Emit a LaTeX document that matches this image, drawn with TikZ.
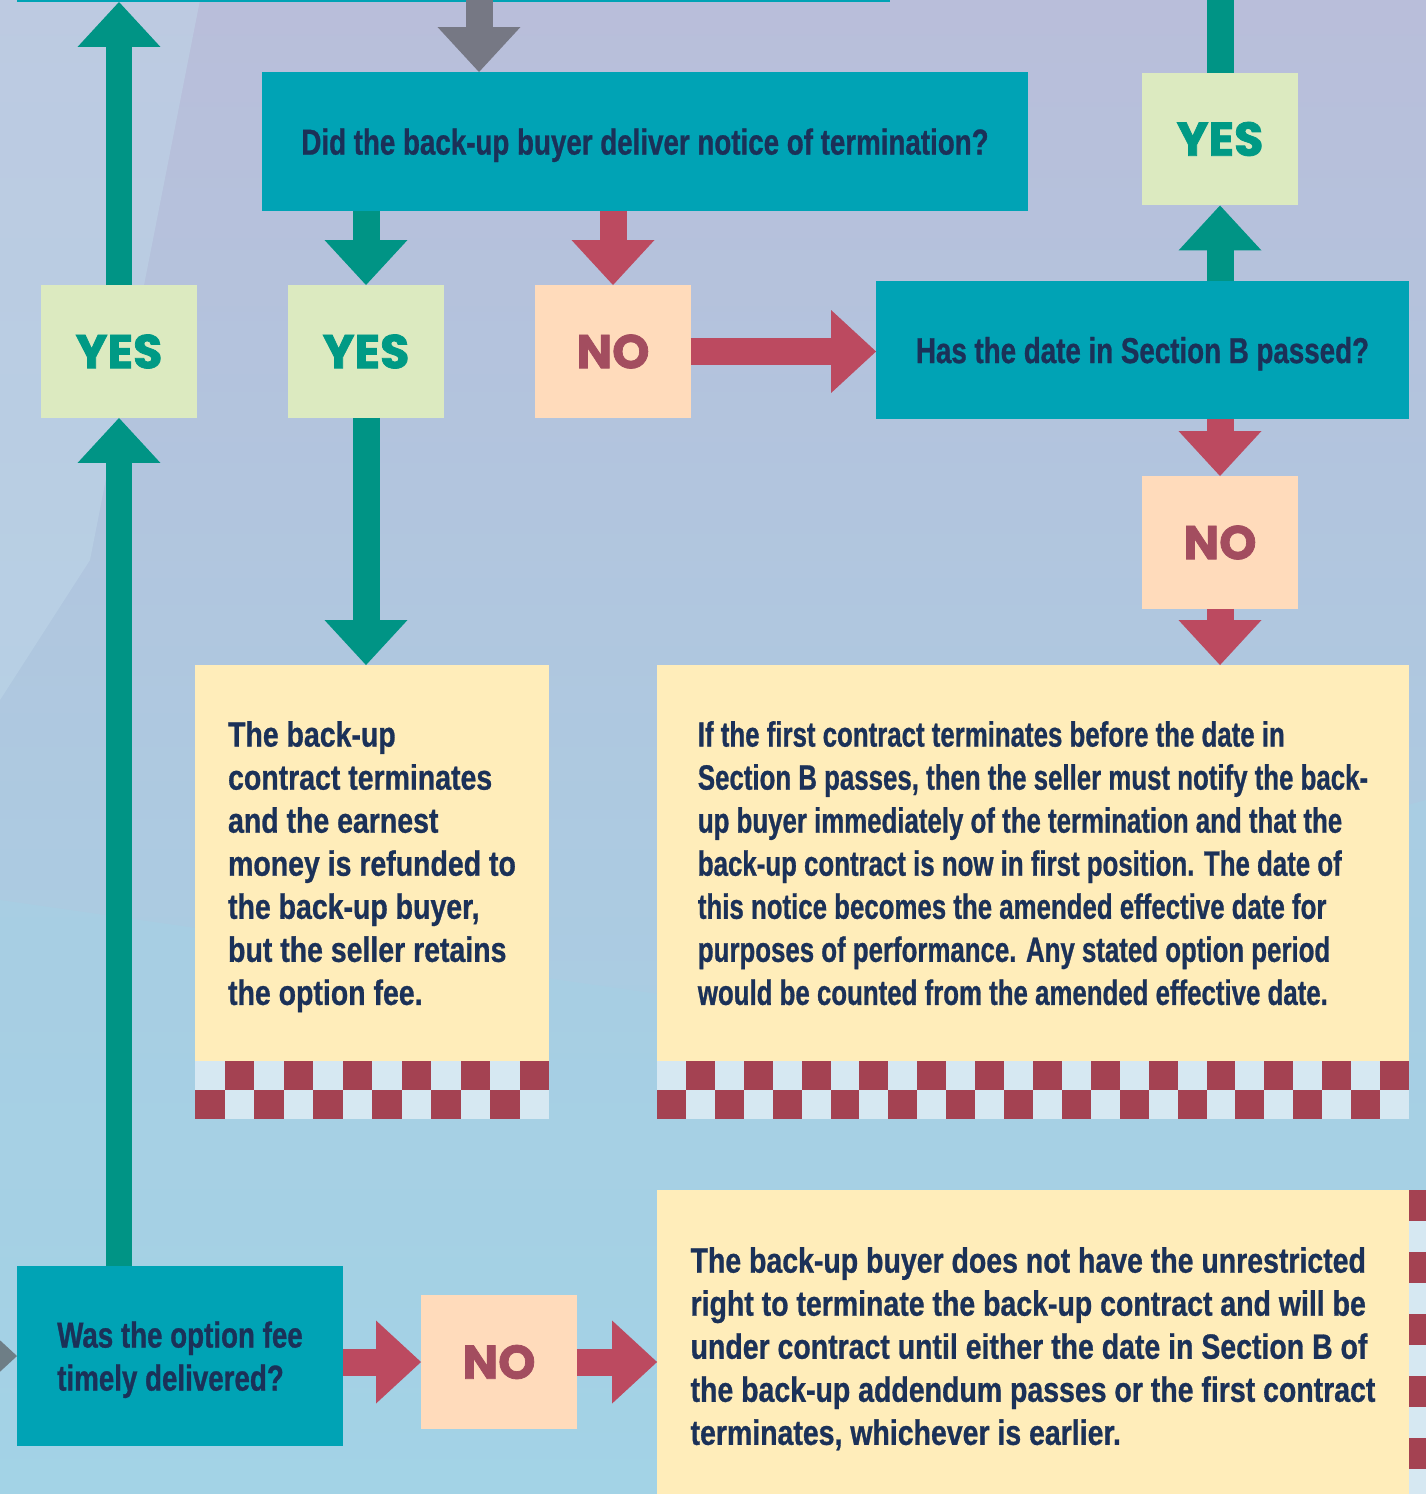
\documentclass[tikz,border=0pt]{standalone}
\usepackage{fontspec}
\usetikzlibrary{arrows.meta}

\newfontfamily\qfont{Liberation Sans}[FakeStretch=0.77, BoldFeatures={FakeBold=0.8}]
\newfontfamily\bodyfont{Liberation Sans}[FakeStretch=0.81, BoldFeatures={FakeBold=0.8}]
\newfontfamily\tightfont{Liberation Sans}[FakeStretch=0.735, BoldFeatures={FakeBold=0.8}]
\newfontfamily\tagfont{Poppins}[BoldFeatures={FakeBold=1.6}]

\definecolor{bgtop}{HTML}{B9BEDA}
\definecolor{bgmid}{HTML}{B0C9E2}
\definecolor{bgbot}{HTML}{A3D3E6}
\definecolor{bglight}{HTML}{C2DAEB}
\definecolor{boxteal}{HTML}{00A3B5}
\definecolor{arrteal}{HTML}{009485}
\definecolor{yesfill}{HTML}{DCEAC0}
\definecolor{yestext}{HTML}{009A85}
\definecolor{nofill}{HTML}{FFDBBB}
\definecolor{notext}{HTML}{A34D5F}
\definecolor{arrred}{HTML}{BC4A60}
\definecolor{notefill}{HTML}{FFEDBA}
\definecolor{chkdark}{HTML}{A44252}
\definecolor{chklight}{HTML}{D6E8F2}
\definecolor{navy}{HTML}{1B3158}
\definecolor{arrgray}{HTML}{767884}
\definecolor{arrgrayb}{HTML}{6E7E86}

\begin{document}
\begin{tikzpicture}[x=0.02cm, y=-0.02cm,
    every node/.style={outer sep=0pt, inner sep=0pt},
    qbox/.style={fill=boxteal, text=navy, align=left, text depth=0pt,
        font=\qfont\bfseries\fontsize{20.5}{24.5}\selectfont},
    tagbox/.style={minimum width=3.12cm, minimum height=2.66cm,
        font=\tagfont\bfseries\fontsize{27}{30}\selectfont},
    yesbox/.style={tagbox, fill=yesfill, text=yestext},
    nobox/.style={tagbox, fill=nofill, text=notext},
    notebox/.style={fill=notefill, text=navy, align=left, text depth=-0.1cm},
    tealarr/.style={draw=arrteal, line width=0.54cm,
        -{Triangle[width=1.66cm, length=0.9cm, line width=0pt]}},
    redarr/.style={tealarr, draw=arrred},
    grayarr/.style={tealarr, draw=arrgray}]

    \useasboundingbox (0,0) rectangle (1426,1494);
    \clip (0,0) rectangle (1426,1494);

    % background
    \shade[top color=bgtop, middle color=bgmid, bottom color=bgbot] (0,0) rectangle (1426,1494);
    \fill[bglight, opacity=0.45] (0,0) -- (200,0) -- (90,560) -- (0,700) -- cycle;
    \fill[bgbot, opacity=0.4] (0,1494) -- (0,900) -- (700,1000) -- (1426,800) -- (1426,1494) -- cycle;

    % boxes
    \node[fill=boxteal, minimum width=17.46cm, minimum height=2.04cm] (prev) at (453.5,-49) {};
    \node[qbox, minimum width=15.32cm, minimum height=2.78cm] (q1) at (645,141.5)
        {Did the back-up buyer deliver notice of termination?};
    \node[yesbox] (yes1) at (119,351.5) {YES};
    \node[yesbox] (yes2) at (366,351.5) {YES};
    \node[nobox] (no1) at (613,351.5) {NO};
    \node[qbox, minimum width=10.66cm, minimum height=2.76cm] (q2) at (1142.5,350)
        {Has the date in Section B passed?};
    \node[yesbox] (yes3) at (1220,139) {YES};
    \node[nobox] (no2) at (1220,542.5) {NO};
    \node[notebox, minimum width=7.08cm, minimum height=7.92cm,
        font=\bodyfont\bfseries\fontsize{20}{24.5}\selectfont] (res1) at (372,863)
        {The back-up\\
         contract terminates\\
         and the earnest\\
         money is refunded to\\
         the back-up buyer,\\
         but the seller retains\\
         the option fee.};
    \node[notebox, minimum width=15.04cm, minimum height=7.92cm,
        font=\tightfont\bfseries\fontsize{20}{24.5}\selectfont] (res2) at (1033,863)
        {If the first contract terminates before the date in\\
         Section B passes, then the seller must notify the back-\\
         up buyer immediately of the termination and that the\\
         back-up contract is now in first position. The date of\\
         this notice becomes the amended effective date for\\
         purposes of performance. Any stated option period\\
         would be counted from the amended effective date.};
    \node[qbox, minimum width=6.52cm, minimum height=3.6cm] (q3) at (180,1356)
        {Was the option fee\\ timely delivered?};
    \node[nobox, minimum height=2.68cm] (no3) at (499,1362) {NO};
    \node[notebox, minimum width=15.04cm, minimum height=6.24cm,
        font=\bodyfont\bfseries\fontsize{20}{24.5}\selectfont] (res3) at (1033,1346)
        {The back-up buyer does not have the unrestricted\\
         right to terminate the back-up contract and will be\\
         under contract until either the date in Section B of\\
         the back-up addendum passes or the first contract\\
         terminates, whichever is earlier.};

    % checkered strips
    \fill[chklight] (195,1061) rectangle (549,1119);
    \foreach \i in {1,3,...,11}
        \fill[chkdark] ({195+\i*29.5},1061) rectangle ({195+(\i+1)*29.5},1090);
    \foreach \i in {0,2,...,10}
        \fill[chkdark] ({195+\i*29.5},1090) rectangle ({195+(\i+1)*29.5},1119);
    \fill[chklight] (657,1061) rectangle (1409,1119);
    \foreach \i in {1,3,...,25}
        \fill[chkdark] ({657+\i*28.923},1061) rectangle ({657+(\i+1)*28.923},1090);
    \foreach \i in {0,2,...,24}
        \fill[chkdark] ({657+\i*28.923},1090) rectangle ({657+(\i+1)*28.923},1119);
    \fill[chklight] (1409,1190) rectangle (1467,1500);
    \foreach \j in {0,2,...,8}
        \fill[chkdark] (1409,{1190+\j*31}) rectangle (1438,{1190+(\j+1)*31});
    \foreach \j in {1,3,...,9}
        \fill[chkdark] (1438,{1190+\j*31}) rectangle (1467,{1190+(\j+1)*31});

    % connectors
    \coordinate (gtop) at (479,-10);
    \coordinate (gleft) at (-60,1356);
    \coordinate (ttop) at (1220,-10);
    \draw[grayarr] (gtop) -- (gtop |- q1.north);
    \draw[grayarr, draw=arrgrayb] (gleft) -- (q3.west);
    \draw[tealarr] (yes1.north) -- (yes1.north |- prev.south);
    \draw[tealarr] (yes1.south |- q3.north) -- (yes1.south);
    \draw[tealarr] (yes2.north |- q1.south) -- (yes2.north);
    \draw[tealarr] (yes2.south) -- (yes2.south |- res1.north);
    \draw[redarr] (no1.north |- q1.south) -- (no1.north);
    \draw[redarr] (no1.east) -- (no1.east -| q2.west);
    \draw[tealarr] (yes3.south |- q2.north) -- (yes3.south);
    \draw[draw=arrteal, line width=0.54cm] (yes3.north) -- (ttop);
    \draw[redarr] (q2.south -| no2.north) -- (no2.north);
    \draw[redarr] (no2.south) -- (no2.south |- res2.north);
    \draw[redarr] (q3.east |- no3.west) -- (no3.west);
    \draw[redarr] (no3.east) -- (no3.east -| res3.west);
\end{tikzpicture}
\end{document}
